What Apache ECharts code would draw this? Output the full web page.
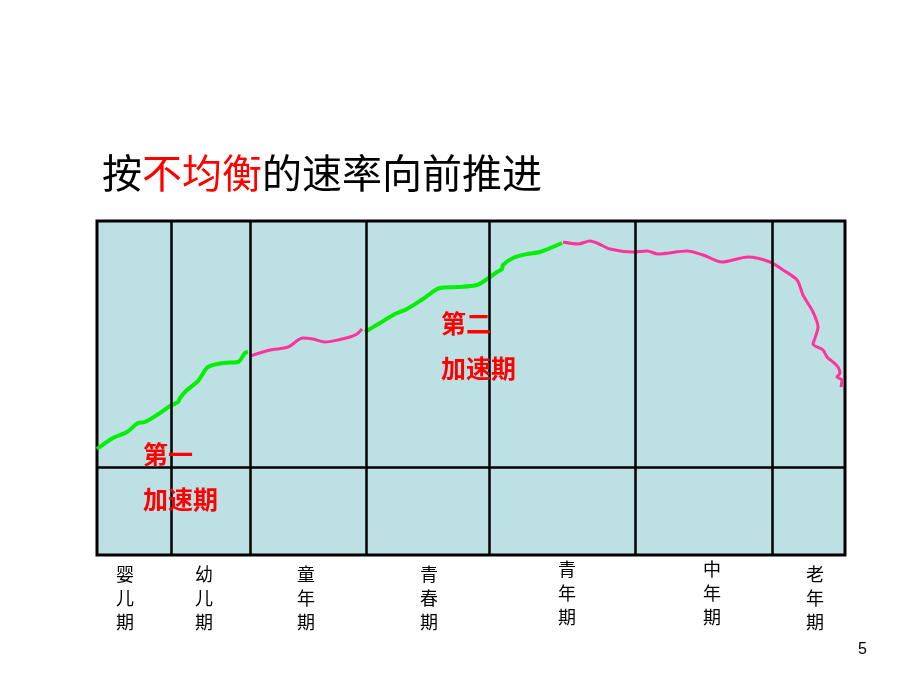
<!DOCTYPE html>
<html>
<head>
<meta charset="utf-8">
<script src="https://cdn.jsdelivr.net/npm/echarts@6/dist/echarts.min.js"></script>
<style>html,body{margin:0;padding:0;background:#fff;}#main{width:920px;height:690px;}</style>
</head>
<body>
<div id="main"></div>
<script>
// Stage labels (vertical text) and their x positions
var stageLabels = ['婴\n儿\n期', '幼\n儿\n期', '童\n年\n期', '青\n春\n期', '青\n年\n期', '中\n年\n期', '老\n年\n期'];
var stageX = [28, 107, 209, 332, 470, 615, 718];
var stageRaised = [false, false, false, false, true, true, false];
// Stage boundaries (x) and horizontal divider (y)
var dividersX = [74, 153, 269, 392, 538, 675];
var dividerY = [88];
// Curve segments [x, y]
var green1 = [[0,106],[16,117],[30,123],[41,132],[48,133],[60,140],[73,149],[81,153],[83,157],[90,165],[101,174],[105,180],[111,188],[126,192],[141,193],[148,202],[151,203]];
var pink1 = [[153,199],[173,205],[191,208],[206,217],[216,216],[228,213],[241,215],[253,218],[260,221],[265,226]];
var green2 = [[268,223],[283,232],[298,241],[310,246],[326,256],[343,267],[360,268],[380,270],[393,278],[400,283],[405,286],[406,290],[416,297],[430,301],[443,303],[465,312]];
var pink2 = [[466,313],[481,311],[493,314],[500,312],[513,306],[536,303],[550,304],[561,301],[590,304],[606,300],[625,293],[651,298],[673,293],[686,285],[700,275],[706,260],[716,243],[721,228],[718,217],[716,211],[726,205],[730,198],[736,193],[741,188],[743,182],[740,178],[745,175],[744,168]];
// Annotations
var annoText = ['第一\n加速期', '第二\n加速期'];
var annoX = [46, 344];
var annoY = [78, 209];

var chart = echarts.init(document.getElementById('main'), null, {renderer: 'canvas'});
var GREEN = '#00f000', PINK = '#ff3399';
var labelFont = '"Noto Sans CJK SC", sans-serif';

function stageFormatter(raised) {
  return function (v) {
    var i = stageX.indexOf(v);
    if (i < 0 || stageRaised[i] !== raised) return '';
    return stageLabels[i];
  };
}
function xAxisDef(raised, margin) {
  return {
    type: 'value', min: 0, max: 748, position: 'bottom', gridIndex: 0,
    axisLine: {show: false}, axisTick: {show: false}, splitLine: {show: false},
    axisLabel: {
      show: true, customValues: stageX.filter(function (v, i) { return stageRaised[i] === raised; }),
      formatter: stageFormatter(raised), margin: margin,
      fontSize: 18, lineHeight: 24, color: '#000', fontFamily: labelFont,
      align: 'center', verticalAlign: 'top'
    }
  };
}

var option = {
  animation: false,
  backgroundColor: '#ffffff',
  title: [{
    text: '按{r|不均衡}的速率向前推进',
    left: 97, top: 146,
    textStyle: {
      fontSize: 40, fontWeight: 'normal', color: '#000', fontFamily: labelFont, lineHeight: 44,
      rich: {r: {fontSize: 40, color: '#ff0000', fontFamily: labelFont, lineHeight: 44}}
    }
  }, {
    text: '5', left: 853, top: 637,
    textStyle: {fontSize: 16, fontWeight: 'normal', color: '#000', fontFamily: 'Liberation Sans, Arial, sans-serif'}
  }],
  grid: {
    left: 97, top: 221, width: 748, height: 334,
    show: true, backgroundColor: '#bce0e3', borderColor: '#000', borderWidth: 3
  },
  xAxis: [xAxisDef(false, 7), xAxisDef(true, 2)],
  yAxis: {type: 'value', min: 0, max: 334, show: false, splitLine: {show: false}},
  series: [
    {
      type: 'line', data: [], z: 1, silent: true, xAxisIndex: 0,
      markLine: {
        silent: true, symbol: 'none', animation: false,
        label: {show: false},
        lineStyle: {color: '#000', width: 2.5, type: 'solid'},
        emphasis: {disabled: true},
        data: dividersX.map(function (v) { return {xAxis: v}; })
          .concat(dividerY.map(function (v) { return {yAxis: v}; }))
      },
      markPoint: {
        symbol: 'circle', symbolSize: 0, silent: true,
        label: {
          show: true, position: 'right', distance: 0, formatter: '{b}',
          color: '#ff0000', fontSize: 25, fontWeight: 'bold', lineHeight: 45, fontFamily: labelFont, align: 'left'
        },
        data: annoText.map(function (t, i) { return {name: t, coord: [annoX[i], annoY[i]]}; })
      }
    },
    {type: 'line', data: green1, smooth: 0.3, showSymbol: false, z: 3, lineStyle: {color: GREEN, width: 4}},
    {type: 'line', data: pink1, smooth: 0.3, showSymbol: false, z: 3, lineStyle: {color: PINK, width: 3}},
    {type: 'line', data: green2, smooth: 0.3, showSymbol: false, z: 3, lineStyle: {color: GREEN, width: 4}},
    {type: 'line', data: pink2, smooth: 0.3, showSymbol: false, z: 3, lineStyle: {color: PINK, width: 3}}
  ]
};
chart.setOption(option);
</script>
</body>
</html>
